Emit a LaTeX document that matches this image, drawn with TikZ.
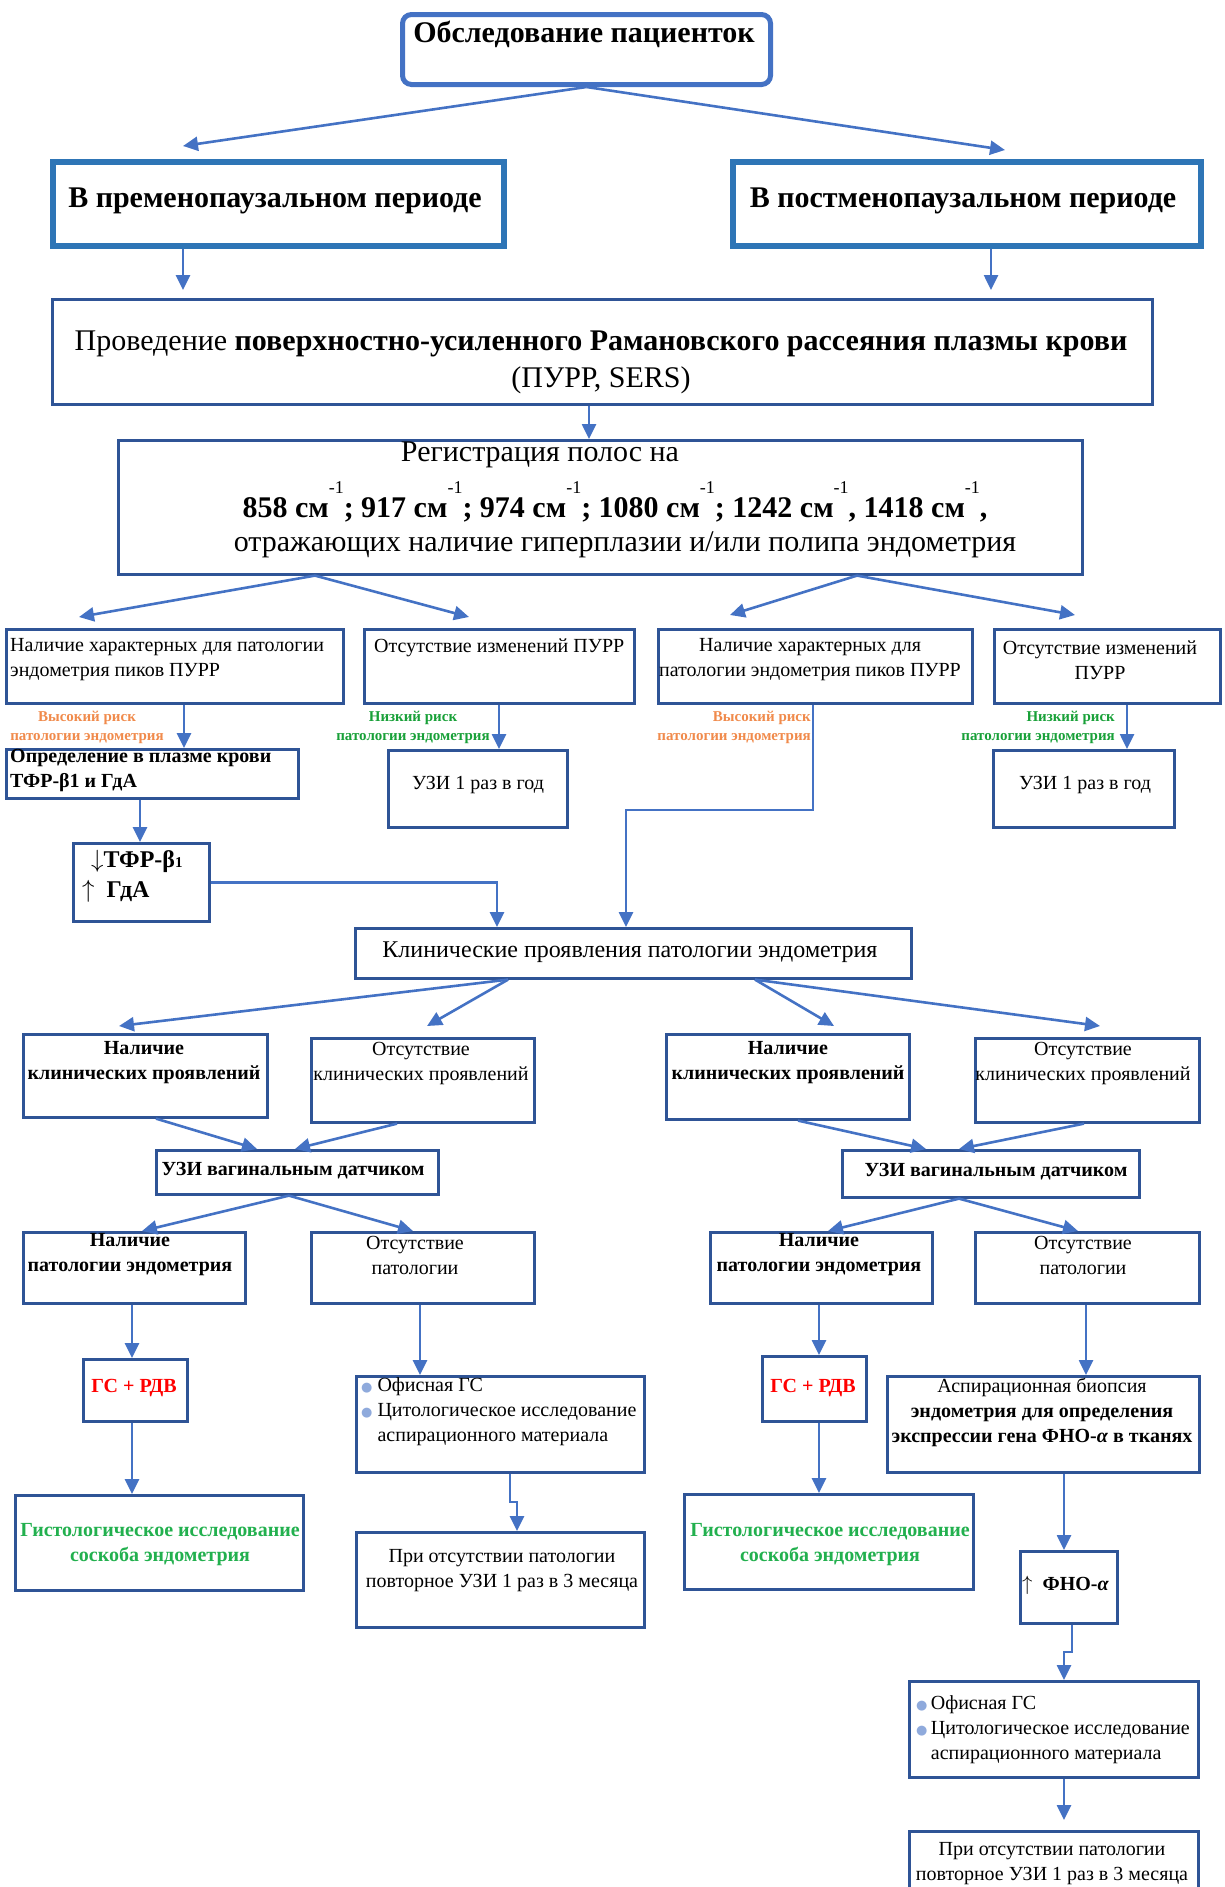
\documentclass[tikz,border=0pt]{standalone}
\usepackage{fontspec}
\setmainfont{Liberation Serif}
\newfontfamily\bulletfont{DejaVu Sans}
\usepackage{tikz}
\usetikzlibrary{positioning,calc,arrows.meta}
\definecolor{arrowblue}{HTML}{4472C4}
\definecolor{boxblue}{HTML}{2F5496}
\definecolor{headblue}{HTML}{2E75B6}
\definecolor{riskorange}{HTML}{F08A4B}
\definecolor{riskgreen}{HTML}{18A038}
\definecolor{histgreen}{HTML}{22B04E}
\definecolor{bulletblue}{HTML}{8FAADC}
\newcommand{\wn}{\raisebox{24pt}{\fontsize{18}{18}\selectfont\mdseries -1}}
\newcommand{\blt}{{\bulletfont\fontsize{13}{13}\selectfont\textcolor{bulletblue}{●}}}
\tikzset{
  figbox/.style={draw=boxblue, line width=2.6pt, anchor=north west, inner sep=0pt},
  figboxhead/.style={figbox, draw=headblue, line width=6pt},
  figtext/.style={inner sep=0pt, align=center},
  bigfont/.style={font=\fontsize{30}{37}\selectfont},
  bigbold/.style={font=\fontsize{30}{37}\selectfont\bfseries},
  midfont/.style={font=\fontsize{24}{29}\selectfont},
  bodyfont/.style={font=\fontsize{20}{25}\selectfont},
  bodybold/.style={font=\fontsize{20}{25}\selectfont\bfseries},
  riskfont/.style={font=\fontsize{15}{19}\selectfont\bfseries},
  figarrow/.style={draw=arrowblue, line width=2.6pt, -{Triangle[length=15pt,width=14pt]}},
}
\begin{document}
\begin{tikzpicture}[x=1pt, y=-1pt]
\useasboundingbox (0,0) rectangle (1224,1887);

% Head and periods
\node[figbox, draw=arrowblue, line width=5pt, rounded corners=9pt, minimum width=368pt, minimum height=70pt] (top) at (400,12) {};
\node[figtext, bigbold] (topt) at (584,34) {Обследование пациенток};
\node[figboxhead, minimum width=451pt, minimum height=84pt] (preL) at (50,159) {};
\node[figtext, bigbold] (preLt) at (275,201) {В пременопаузальном периоде};
\node[figboxhead, minimum width=468pt, minimum height=84pt] (preR) at (730,159) {};
\node[figtext, bigbold] (preRt) at (963,201) {В постменопаузальном периоде};

% SERS and bands
\node[figbox, minimum width=1100pt, minimum height=105pt] (sers) at (51,298) {};
\node[figtext, bigfont] (serst) at (601,362) {Проведение \textbf{поверхностно-усиленного Рамановского рассеяния плазмы крови}\\(ПУРР, SERS)};
\node[figbox, minimum width=964pt, minimum height=134pt] (reg) at (117,439) {};
\node[figtext, bigfont] (regt1) at (540,455) {Регистрация полос на};
\node[figtext, bigbold, anchor=base] (regt2) at (615,517) {858 см\wn; 917 см\wn; 974 см\wn; 1080 см\wn; 1242 см\wn, 1418 см\wn,};
\node[figtext, bigfont] (regt3) at (625,545) {отражающих наличие гиперплазии и/или полипа эндометрия};

% Row A
\node[figbox, minimum width=337pt, minimum height=74pt] (a1) at (5,628) {};
\node[figtext, bodyfont, align=left, anchor=west] (a1t) at (10,660) {Наличие характерных для патологии\\эндометрия пиков ПУРР};
\node[figbox, minimum width=270pt, minimum height=74pt] (a2) at (363,628) {};
\node[figtext, bodyfont, anchor=west] (a2t) at (374,648) {Отсутствие изменений ПУРР};
\node[figbox, minimum width=314pt, minimum height=74pt] (b1) at (657,628) {};
\node[figtext, bodyfont] (b1t) at (810,660) {Наличие характерных для\\патологии эндометрия пиков ПУРР};
\node[figbox, minimum width=226pt, minimum height=74pt] (b2) at (993,628) {};
\node[figtext, bodyfont] (b2t) at (1100,660) {Отсутствие изменений\\ПУРР};

% Risk labels
\node[figtext, riskfont, text=riskorange] (rl1) at (87,727) {Высокий риск\\патологии эндометрия};
\node[figtext, riskfont, text=riskgreen] (rl2) at (413,727) {Низкий риск\\патологии эндометрия};
\node[figtext, riskfont, text=riskorange, align=right, anchor=east] (rl3) at (811,727) {Высокий риск\\патологии эндометрия};
\node[figtext, riskfont, text=riskgreen, align=right, anchor=east] (rl4) at (1115,727) {Низкий риск\\патологии эндометрия};

% Markers and yearly ultrasound
\node[figbox, minimum width=292pt, minimum height=49pt] (det) at (5,748) {};
\node[figtext, bodybold, align=left, anchor=west] (dett) at (10,770) {Определение в плазме крови\\ТФР-β1 и ГдА};
\node[figbox, minimum width=179pt, minimum height=77pt] (uzi1) at (387,749) {};
\node[figtext, bodyfont] (uzi1t) at (478,785) {УЗИ 1 раз в год};
\node[figbox, minimum width=181pt, minimum height=77pt] (uzi2) at (992,749) {};
\node[figtext, bodyfont] (uzi2t) at (1085,785) {УЗИ 1 раз в год};
\node[figbox, minimum width=136pt, minimum height=78pt] (tfr) at (72,842) {};
\node[figtext, font=\fontsize{24}{30}\selectfont\bfseries, align=left, anchor=west] (tfrt) at (82,876) {\hspace*{9pt}$\downarrow$ТФР-β{\fontsize{15}{15}\selectfont 1}\\$\uparrow$\ \ ГдА};

% Clinical signs
\node[figbox, minimum width=556pt, minimum height=50pt] (clin) at (354,927) {};
\node[figtext, midfont] (clint) at (630,952) {Клинические проявления патологии эндометрия};
\node[figbox, minimum width=244pt, minimum height=83pt] (c1) at (22,1033) {};
\node[figtext, bodybold] (c1t) at (144,1063) {Наличие\\клинических проявлений};
\node[figbox, minimum width=223pt, minimum height=84pt] (c2) at (310,1037) {};
\node[figtext, bodyfont] (c2t) at (421,1063) {Отсутствие\\клинических проявлений};
\node[figbox, minimum width=243pt, minimum height=85pt] (c3) at (665,1033) {};
\node[figtext, bodybold] (c3t) at (788,1063) {Наличие\\клинических проявлений};
\node[figbox, minimum width=224pt, minimum height=84pt] (c4) at (974,1037) {};
\node[figtext, bodyfont] (c4t) at (1083,1063) {Отсутствие\\клинических проявлений};

% Vaginal ultrasound
\node[figbox, minimum width=282pt, minimum height=44pt] (vag1) at (155,1149) {};
\node[figtext, bodybold] (vag1t) at (293,1171) {УЗИ вагинальным датчиком};
\node[figbox, minimum width=297pt, minimum height=47pt] (vag2) at (841,1149) {};
\node[figtext, bodybold] (vag2t) at (996,1172) {УЗИ вагинальным датчиком};

% Row D
\node[figbox, minimum width=222pt, minimum height=71pt] (d1) at (22,1231) {};
\node[figtext, bodybold] (d1t) at (130,1255) {Наличие\\патологии эндометрия};
\node[figbox, minimum width=223pt, minimum height=71pt] (d2) at (310,1231) {};
\node[figtext, bodyfont] (d2t) at (415,1255) {Отсутствие\\патологии};
\node[figbox, minimum width=222pt, minimum height=71pt] (d3) at (709,1231) {};
\node[figtext, bodybold] (d3t) at (819,1255) {Наличие\\патологии эндометрия};
\node[figbox, minimum width=224pt, minimum height=71pt] (d4) at (974,1231) {};
\node[figtext, bodyfont] (d4t) at (1083,1255) {Отсутствие\\патологии};

% Left branch bottom
\node[figbox, minimum width=104pt, minimum height=62pt] (gs1) at (82,1358) {};
\node[figtext, bodybold, text=red] (gs1t) at (134,1388) {ГС + РДВ};
\node[figbox, minimum width=288pt, minimum height=95pt] (his1) at (14,1494) {};
\node[figtext, bodybold, text=histgreen] (his1t) at (160,1545) {Гистологическое исследование\\соскоба эндометрия};
\node[figbox, minimum width=288pt, minimum height=96pt] (off1) at (355,1375) {};
\node[figtext, bodyfont, align=left, anchor=west] (off1t) at (361,1412) {\blt\ Офисная ГС\\\blt\ Цитологическое исследование\\\phantom{\blt\ }аспирационного материала};
\node[figbox, minimum width=288pt, minimum height=95pt] (rep1) at (355,1531) {};
\node[figtext, bodyfont] (rep1t) at (502,1571) {При отсутствии патологии\\повторное УЗИ 1 раз в 3 месяца};

% Right branch bottom
\node[figbox, minimum width=104pt, minimum height=65pt] (gs2) at (761,1355) {};
\node[figtext, bodybold, text=red] (gs2t) at (813,1388) {ГС + РДВ};
\node[figbox, minimum width=289pt, minimum height=95pt] (his2) at (683,1493) {};
\node[figtext, bodybold, text=histgreen] (his2t) at (830,1545) {Гистологическое исследование\\соскоба эндометрия};
\node[figbox, minimum width=312pt, minimum height=96pt] (asp) at (886,1375) {};
\node[figtext, bodyfont] (aspt) at (1042,1412) {Аспирационная биопсия\\\textbf{эндометрия для определения}\\\textbf{экспрессии гена ФНО-\textit{α} в тканях}};
\node[figbox, minimum width=97pt, minimum height=72pt] (fno) at (1019,1550) {};
\node[figtext, bodyfont, anchor=west] (fnot) at (1022,1585) {$\uparrow$\ \ \textbf{ФНО-\textit{α}}};
\node[figbox, minimum width=289pt, minimum height=96pt] (off2) at (908,1680) {};
\node[figtext, bodyfont, align=left, anchor=west] (off2t) at (916,1730) {\blt\,Офисная ГС\\\blt\,Цитологическое исследование\\\phantom{\blt\,}аспирационного материала};
\node[figbox, minimum width=289pt, minimum height=95pt] (rep2) at (908,1830) {};
\node[figtext, bodyfont] (rep2t) at (1052,1864) {При отсутствии патологии\\повторное УЗИ 1 раз в 3 месяца};

% Arrow end points and columns
\coordinate (preLin) at (183,146);
\coordinate (preRin) at (1005,150);
\coordinate (serL) at (183,290);
\coordinate (serR) at (991,290);
\coordinate (xs) at (589,0);
\coordinate (regL) at (315,0);
\coordinate (regR) at (857,0);
\coordinate (a1in) at (79,617);
\coordinate (a2in) at (469,617);
\coordinate (b1in) at (730,615);
\coordinate (b2in) at (1075,615);
\coordinate (xa1) at (184,0);
\coordinate (xa2) at (499,0);
\coordinate (xb2) at (1127,0);
\coordinate (xdt) at (140,0);
\coordinate (xk) at (497,0);
\coordinate (bendB) at (813,810);
\coordinate (xc2) at (626,0);
\coordinate (clL) at (508,0);
\coordinate (clR) at (755,0);
\coordinate (c1in) at (119,1026);
\coordinate (c2in) at (427,1026);
\coordinate (c3in) at (834,1026);
\coordinate (c4in) at (1100,1026);
\coordinate (jogA) at (510,1502);
\coordinate (jogB) at (517,1502);
\coordinate (jogC) at (1072,1652);
\coordinate (jogD) at (1064,1652);
\coordinate (rep2in) at (1064,1820);

% Upper arrows
\draw[figarrow] (top.south) -- (preLin);
\draw[figarrow] (top.south) -- (preRin);
\draw[figarrow] (preL.south -| serL) -- (serL);
\draw[figarrow] (preR.south -| serR) -- (serR);
\draw[figarrow] (sers.south -| xs) -- (reg.north -| xs);
\draw[figarrow] (reg.south -| regL) -- (a1in);
\draw[figarrow] (reg.south -| regL) -- (a2in);
\draw[figarrow] (reg.south -| regR) -- (b1in);
\draw[figarrow] (reg.south -| regR) -- (b2in);

% Risk arrows
\draw[figarrow] (a1.south -| xa1) -- (det.north -| xa1);
\draw[figarrow] (a2.south -| xa2) -- (uzi1.north -| xa2);
\draw[figarrow] (b2.south -| xb2) -- (uzi2.north -| xb2);
\draw[figarrow] (det.south -| xdt) -- (tfr.north -| xdt);
\draw[figarrow] (tfr.east) -| (clin.north -| xk);
\draw[figarrow] (b1.south -| bendB) -- (bendB) -| (clin.north -| xc2);

% Clinical arrows
\draw[figarrow] (clin.south -| clL) -- (c1in);
\draw[figarrow] (clin.south -| clL) -- (c2in);
\draw[figarrow] (clin.south -| clR) -- (c3in);
\draw[figarrow] (clin.south -| clR) -- (c4in);
\draw[figarrow] ($(c1.south west)+(134,0)$) -- ($(vag1.north west)+(102,0)$);
\draw[figarrow] ($(c2.south west)+(87,0)$) -- ($(vag1.north west)+(140,0)$);
\draw[figarrow] ($(c3.south west)+(133,0)$) -- ($(vag2.north west)+(85,0)$);
\draw[figarrow] ($(c4.south west)+(110,0)$) -- ($(vag2.north west)+(118,0)$);
\draw[figarrow] ($(vag1.south west)+(134,0)$) -- ($(d1.north west)+(120,0)$);
\draw[figarrow] ($(vag1.south west)+(134,0)$) -- ($(d2.north west)+(103,0)$);
\draw[figarrow] ($(vag2.south west)+(118,0)$) -- ($(d3.north west)+(119,0)$);
\draw[figarrow] ($(vag2.south west)+(118,0)$) -- ($(d4.north west)+(104,0)$);

% Lower arrows
\draw[figarrow] ($(d1.south west)+(110,0)$) -- ($(gs1.north west)+(50,0)$);
\draw[figarrow] ($(gs1.south west)+(50,0)$) -- ($(his1.north west)+(118,0)$);
\draw[figarrow] ($(d2.south west)+(110,0)$) -- ($(off1.north west)+(65,0)$);
\draw[figarrow] (off1.south -| jogA) -- (jogA) -- (jogB) -- (rep1.north -| jogB);
\draw[figarrow] ($(d3.south west)+(110,0)$) -- ($(gs2.north west)+(58,0)$);
\draw[figarrow] ($(gs2.south west)+(58,0)$) -- ($(his2.north west)+(136,0)$);
\draw[figarrow] ($(d4.south west)+(112,0)$) -- ($(asp.north west)+(200,0)$);
\draw[figarrow] ($(asp.south west)+(178,0)$) -- ($(fno.north west)+(45,0)$);
\draw[figarrow] (fno.south -| jogC) -- (jogC) -- (jogD) -- (off2.north -| jogD);
\draw[figarrow] (off2.south -| rep2in) -- (rep2in);
\end{tikzpicture}
\end{document}
